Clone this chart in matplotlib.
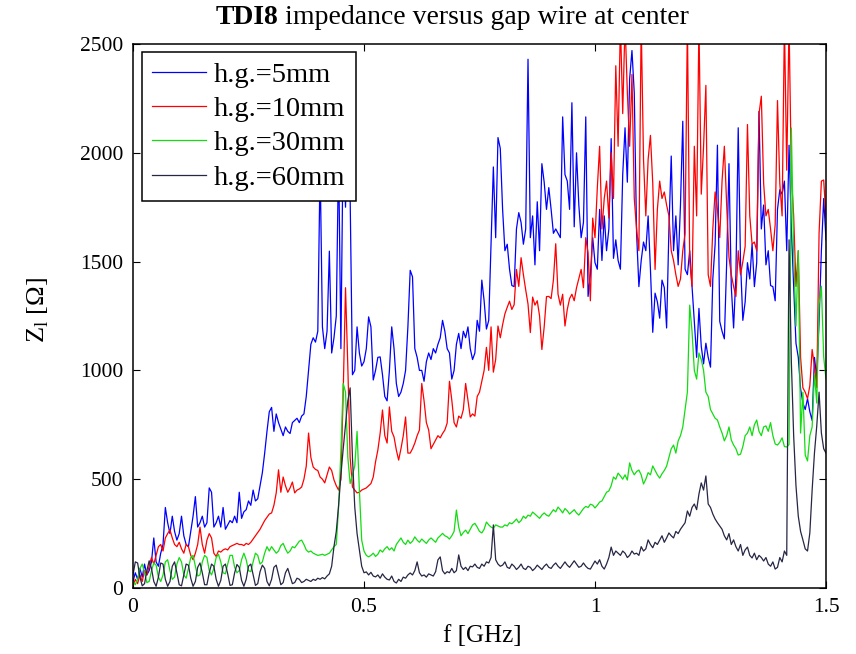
import matplotlib
matplotlib.use('Agg')
import matplotlib.pyplot as plt
import numpy as np

plt.rcParams['font.family'] = ['Liberation Serif', 'DejaVu Serif']
plt.rcParams['mathtext.fontset'] = 'custom'
plt.rcParams['mathtext.rm'] = 'Liberation Serif'

# frequency samples, 5 MHz steps from 0 to 1.5 GHz
freq = np.round(np.arange(301) * 0.005, 3)

# longitudinal impedance [Ohm] for each half gap
z_5mm = [
    30, 70, 40, 90, 50, 110, 60, 80, 120, 230, 120, 100, 160, 200, 370, 300, 250, 330, 260, 220,
    250, 330, 240, 200, 190, 260, 330, 420, 280, 300, 330, 280, 300, 460, 440, 280, 300, 330, 280, 370,
    270, 290, 310, 300, 330, 300, 440, 320, 350, 360, 400, 380, 450, 400, 410, 470, 530, 620, 720, 810,
    830, 720, 800, 760, 730, 700, 740, 720, 710, 760, 770, 780, 760, 790, 800, 880, 1000, 1120, 1150, 1130,
    1180, 1950, 1200, 1100, 1180, 1548, 1080, 1150, 1250, 2000, 1100, 2100, 1750, 2200, 1800, 980, 1000, 1200, 1080, 1020,
    1040, 1100, 1246, 1200, 956, 1000, 1060, 1062, 980, 880, 860, 1000, 1200, 1100, 940, 880, 900, 940, 1000, 1200,
    1460, 1430, 1100, 1060, 1000, 1000, 950, 1040, 1080, 1050, 1100, 1080, 1120, 1150, 1230, 1180, 1100, 1080, 960, 1000,
    1120, 1170, 1100, 1180, 1150, 1200, 1100, 1050, 1080, 1230, 1180, 1415, 1320, 1190, 1230, 1580, 1935, 1610, 2070, 2020,
    1740, 1550, 1580, 1465, 1390, 1385, 1650, 1725, 1680, 1580, 1650, 2430, 1610, 1710, 1485, 1775, 1550, 1950, 1865, 1740,
    1840, 1740, 1630, 1650, 1630, 1610, 2165, 1900, 1870, 1740, 2230, 1660, 2000, 1760, 1610, 1680, 2165, 1340, 1440, 1610,
    1495, 1465, 1740, 1505, 1710, 1550, 1650, 2065, 1515, 1600, 1505, 1465, 1900, 2115, 1865, 2340, 2470, 2275, 1630, 1385,
    1505, 1590, 1550, 1710, 1465, 1175, 1355, 1315, 1240, 1415, 1380, 1195, 1650, 1985, 1550, 1710, 1485, 1760, 2145, 1465,
    1440, 1550, 1385, 1225, 1060, 1285, 1110, 1030, 1125, 1060, 1015, 1420, 1580, 2035, 1225, 1180, 1145, 1495, 1950, 1385,
    1195, 1440, 2115, 1495, 1230, 1315, 1495, 1420, 1580, 1385, 1495, 2190, 1650, 1760, 1485, 1550, 1390, 1385, 1320, 1740,
    1830, 1810, 1870, 1550, 2035, 1650, 1385, 1125, 1060, 915, 850, 820, 870, 810, 770, 1060, 965, 1225, 1550, 1790, 1600,
]

z_10mm = [
    10, 40, 20, 60, 30, 80, 60, 100, 140, 110, 150, 190, 200, 170, 230, 250, 267, 230, 200, 190,
    210, 180, 160, 200, 190, 150, 130, 160, 200, 280, 200, 160, 220, 250, 230, 160, 145, 170, 165, 175,
    180, 175, 190, 195, 200, 205, 200, 200, 195, 205, 200, 210, 225, 240, 255, 270, 290, 310, 325, 340,
    345, 380, 437, 543, 440, 510, 470, 440, 460, 487, 437, 450, 455, 464, 500, 560, 712, 600, 556, 545,
    540, 510, 500, 483, 520, 556, 540, 497, 470, 450, 500, 900, 1380, 1016, 600, 464, 450, 437, 440, 450,
    455, 460, 470, 480, 510, 580, 634, 712, 818, 700, 666, 832, 720, 694, 634, 588, 640, 700, 786, 620,
    620, 640, 666, 700, 726, 940, 860, 760, 726, 640, 660, 680, 700, 690, 710, 726, 758, 950, 864, 760,
    740, 790, 780, 820, 940, 864, 786, 800, 790, 880, 900, 950, 1000, 1106, 1000, 1200, 992, 1050, 1204, 1150,
    1210, 1260, 1290, 1318, 1280, 1302, 1464, 1386, 1518, 1440, 1370, 1305, 1174, 1337, 1300, 1320, 1250, 1096, 1200, 1339,
    1340, 1330, 1416, 1582, 1350, 1300, 1350, 1204, 1280, 1330, 1350, 1320, 1380, 1421, 1464, 1380, 1610, 1540, 1320, 1700,
    1610, 1838, 2030, 1650, 1790, 1870, 1700, 2000, 1790, 2400, 2030, 2600, 2180, 2600, 2280, 2030, 2360, 1790, 1650, 1550,
    2600, 1970, 1710, 1970, 2080, 1860, 1464, 1740, 1870, 1790, 1820, 1760, 1710, 1550, 1505, 1440, 1386, 1420, 1550, 1630,
    2600, 1505, 1386, 2030, 1710, 2600, 1810, 2030, 2310, 1440, 1386, 1650, 1820, 1740, 1610, 1870, 2030, 1760, 1520, 1440,
    1386, 1340, 1550, 1440, 1500, 1570, 2130, 1710, 1580, 1590, 1550, 2180, 2260, 1860, 1710, 1740, 1650, 1550, 1670, 2240,
    1860, 1710, 2600, 1920, 2600, 1900, 1710, 1386, 1550, 1060, 920, 900, 870, 930, 1096, 1020, 920, 1630, 1870, 1875, 1700,
]

z_30mm = [
    30, 15, 40, 90, 110, 70, 25, 30, 80, 115, 105, 50, 30, 60, 120, 130, 80, 40, 50, 110,
    140, 120, 60, 45, 90, 140, 150, 100, 55, 60, 120, 150, 140, 80, 60, 90, 140, 155, 120, 70,
    65, 110, 150, 150, 95, 70, 80, 130, 160, 130, 80, 75, 120, 160, 150, 110, 120, 160, 190, 170,
    190, 175, 160, 170, 195, 205, 180, 160, 170, 190, 185, 200, 215, 220, 200, 175, 165, 170, 160, 155,
    150, 152, 155, 150, 155, 160, 175, 190, 200, 370, 630, 940, 900, 600, 480, 520, 560, 720, 450, 220,
    170, 150, 143, 150, 160, 145, 155, 175, 165, 180, 190, 175, 185, 170, 200, 215, 230, 210, 200, 220,
    205, 215, 235, 220, 210, 225, 215, 205, 220, 230, 220, 210, 230, 240, 251, 240, 235, 225, 240, 260,
    358, 280, 240, 255, 266, 250, 270, 290, 297, 280, 260, 253, 270, 303, 290, 280, 275, 290, 285, 280,
    280, 290, 285, 300, 295, 305, 317, 300, 310, 330, 320, 335, 330, 349, 340, 330, 320, 335, 345, 335,
    330, 345, 360, 350, 372, 360, 345, 365, 355, 340, 350, 360, 345, 335, 350, 365, 375, 370, 385, 381,
    368, 380, 395, 400, 420, 440, 446, 470, 510, 500, 528, 515, 500, 520, 496, 575, 540, 520, 535, 542,
    520, 478, 500, 530, 520, 561, 540, 520, 505, 525, 540, 560, 600, 640, 657, 620, 676, 700, 740, 820,
    901, 1300, 1180, 1000, 960, 1080, 1050, 1000, 900, 880, 820, 800, 780, 772, 740, 712, 676, 700, 740, 680,
    657, 640, 611, 615, 650, 700, 712, 740, 700, 750, 772, 720, 700, 740, 745, 720, 760, 700, 662, 657,
    670, 690, 650, 648, 660, 2114, 1548, 1204, 1550, 712, 900, 611, 584, 700, 740, 985, 850, 1305, 1387, 1062, 960,
]

z_60mm = [
    60, 120, 115, 50, 10, 20, 80, 125, 90, 30, 8, 50, 115, 110, 40, 8, 30, 100, 120, 70,
    15, 10, 60, 110, 105, 45, 8, 30, 95, 115, 70, 15, 15, 70, 110, 100, 40, 8, 35, 100,
    110, 65, 12, 15, 70, 108, 95, 35, 8, 40, 100, 110, 60, 12, 20, 75, 105, 90, 30, 10,
    40, 95, 105, 60, 15, 25, 70, 90, 55, 20, 25, 45, 40, 25, 30, 40, 35, 30, 40, 35,
    45, 40, 48, 42, 55, 65, 100, 190, 260, 380, 520, 640, 750, 860, 920, 600, 372, 250, 175, 100,
    70, 74, 60, 72, 55, 51, 60, 45, 65, 50, 40, 37, 55, 30, 23, 40, 30, 50, 45, 60,
    69, 60, 80, 120, 70, 55, 60, 50, 65, 60, 55, 75, 129, 143, 80, 65, 75, 70, 90, 70,
    80, 152, 100, 85, 95, 80, 100, 97, 110, 95, 90, 110, 100, 120, 115, 140, 290, 130, 110, 100,
    105, 120, 95, 90, 110, 100, 85, 95, 110, 90, 85, 100, 95, 80, 90, 105, 95, 85, 100, 110,
    95, 90, 105, 115, 100, 90, 105, 120, 105, 95, 110, 125, 110, 95, 100, 115, 100, 90, 87, 105,
    124, 110, 130, 100, 87, 110, 140, 188, 150, 170, 160, 150, 170, 160, 140, 150, 170, 156, 160, 150,
    190, 170, 180, 221, 200, 185, 210, 200, 220, 240, 210, 230, 253, 240, 230, 260, 250, 270, 285, 300,
    354, 330, 370, 386, 360, 432, 483, 450, 515, 386, 370, 340, 317, 300, 285, 270, 240, 221, 250, 200,
    221, 190, 170, 200, 150, 175, 188, 150, 138, 160, 130, 150, 140, 124, 140, 110, 100, 120, 87, 95,
    140, 120, 170, 150, 1600, 1040, 700, 470, 330, 260, 221, 180, 170, 253, 450, 620, 745, 900, 712, 640, 620,
]

labels = ['h.g.=5mm', 'h.g.=10mm', 'h.g.=30mm', 'h.g.=60mm']
colors = ['#0000ff', '#ff0000', '#11dd11', '#262645']

fig = plt.figure(figsize=(8.56, 6.54), dpi=100)
ax = fig.add_axes([133 / 856, 66 / 654, 693 / 856, 544 / 654])

for z, lab, col in zip([z_5mm, z_10mm, z_30mm, z_60mm], labels, colors):
    ax.plot(freq, z, color=col, lw=0.9, label=lab)

ax.set_xlim(0, 1.5)
ax.set_ylim(0, 2500)
ax.set_xticks([0, 0.5, 1, 1.5])
ax.set_xticklabels(['0', '0.5', '1', '1.5'])
ax.set_yticks([0, 500, 1000, 1500, 2000, 2500])
ax.tick_params(direction='in', top=True, right=True, length=5, width=0.8,
               labelsize=15.5, pad=7)
for sp in ax.spines.values():
    sp.set_linewidth(1.1)

leg = ax.legend(loc='upper left', bbox_to_anchor=(0.013, 0.986), borderaxespad=0,
                fontsize=20.5, fancybox=False, edgecolor='black', framealpha=1,
                handlelength=1.9, handletextpad=0.28, labelspacing=0.3, borderpad=0.35)
leg.get_frame().set_linewidth(1.1)
leg.set_zorder(5)

fig.text(482 / 856, 1 - 636 / 654, 'f [GHz]', fontsize=18, ha='center', va='center')
fig.text(38 / 856, 1 - 310 / 654, r'Z$_\mathregular{l}$ [Ω]', fontsize=19,
         rotation=90, ha='center', va='center')

# title: bold device name followed by plain text
fig.canvas.draw()
rend = fig.canvas.get_renderer()
t1 = fig.text(216 / 856, 1 - 18 / 654, 'TDI8', fontsize=20, fontweight='bold',
              ha='left', va='center')
bb = t1.get_window_extent(renderer=rend)
fig.text((bb.x1 + 6) / fig.bbox.width, 1 - 18 / 654, 'impedance versus gap wire at center',
         fontsize=20, ha='left', va='center')

fig.savefig('out.png', dpi=100)
